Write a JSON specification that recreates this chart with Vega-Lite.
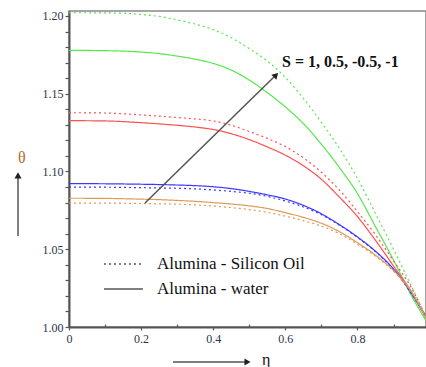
{
  "$schema": "https://vega.github.io/schema/vega-lite/v6.json",
  "width": 357,
  "height": 316,
  "autosize": {"type": "none"},
  "padding": {"left": 69, "top": 11, "right": 0, "bottom": 40},
  "background": "white",
  "config": {
    "view": {"stroke": "#888", "strokeWidth": 1.5},
    "axis": {"labelFont": "serif", "labelFontSize": 12, "labelColor": "#2a3548", "domainColor": "#555", "domainWidth": 2, "tickColor": "#555", "tickWidth": 1.2, "grid": false, "title": null}
  },
  "datasets": {
    "curves": [
      {"eta": 0, "theta": 1.2021, "S": "-1", "fluid": "Alumina - Silicon Oil"},
      {"eta": 0.1, "theta": 1.2020, "S": "-1", "fluid": "Alumina - Silicon Oil"},
      {"eta": 0.2, "theta": 1.2010, "S": "-1", "fluid": "Alumina - Silicon Oil"},
      {"eta": 0.25, "theta": 1.1997, "S": "-1", "fluid": "Alumina - Silicon Oil"},
      {"eta": 0.3, "theta": 1.1975, "S": "-1", "fluid": "Alumina - Silicon Oil"},
      {"eta": 0.35, "theta": 1.1948, "S": "-1", "fluid": "Alumina - Silicon Oil"},
      {"eta": 0.4, "theta": 1.1912, "S": "-1", "fluid": "Alumina - Silicon Oil"},
      {"eta": 0.45, "theta": 1.1860, "S": "-1", "fluid": "Alumina - Silicon Oil"},
      {"eta": 0.5, "theta": 1.1790, "S": "-1", "fluid": "Alumina - Silicon Oil"},
      {"eta": 0.55, "theta": 1.1710, "S": "-1", "fluid": "Alumina - Silicon Oil"},
      {"eta": 0.6, "theta": 1.1605, "S": "-1", "fluid": "Alumina - Silicon Oil"},
      {"eta": 0.65, "theta": 1.1470, "S": "-1", "fluid": "Alumina - Silicon Oil"},
      {"eta": 0.7, "theta": 1.1315, "S": "-1", "fluid": "Alumina - Silicon Oil"},
      {"eta": 0.75, "theta": 1.1148, "S": "-1", "fluid": "Alumina - Silicon Oil"},
      {"eta": 0.8, "theta": 1.0955, "S": "-1", "fluid": "Alumina - Silicon Oil"},
      {"eta": 0.85, "theta": 1.0730, "S": "-1", "fluid": "Alumina - Silicon Oil"},
      {"eta": 0.9, "theta": 1.0500, "S": "-1", "fluid": "Alumina - Silicon Oil"},
      {"eta": 0.95, "theta": 1.0260, "S": "-1", "fluid": "Alumina - Silicon Oil"},
      {"eta": 0.99, "theta": 1.0065, "S": "-1", "fluid": "Alumina - Silicon Oil"},

      {"eta": 0, "theta": 1.1779, "S": "-1", "fluid": "Alumina - water"},
      {"eta": 0.1, "theta": 1.1777, "S": "-1", "fluid": "Alumina - water"},
      {"eta": 0.2, "theta": 1.1768, "S": "-1", "fluid": "Alumina - water"},
      {"eta": 0.25, "theta": 1.1758, "S": "-1", "fluid": "Alumina - water"},
      {"eta": 0.3, "theta": 1.1742, "S": "-1", "fluid": "Alumina - water"},
      {"eta": 0.35, "theta": 1.1722, "S": "-1", "fluid": "Alumina - water"},
      {"eta": 0.4, "theta": 1.1695, "S": "-1", "fluid": "Alumina - water"},
      {"eta": 0.45, "theta": 1.1652, "S": "-1", "fluid": "Alumina - water"},
      {"eta": 0.5, "theta": 1.1588, "S": "-1", "fluid": "Alumina - water"},
      {"eta": 0.55, "theta": 1.1507, "S": "-1", "fluid": "Alumina - water"},
      {"eta": 0.6, "theta": 1.1415, "S": "-1", "fluid": "Alumina - water"},
      {"eta": 0.65, "theta": 1.1308, "S": "-1", "fluid": "Alumina - water"},
      {"eta": 0.7, "theta": 1.1175, "S": "-1", "fluid": "Alumina - water"},
      {"eta": 0.75, "theta": 1.1025, "S": "-1", "fluid": "Alumina - water"},
      {"eta": 0.8, "theta": 1.0858, "S": "-1", "fluid": "Alumina - water"},
      {"eta": 0.85, "theta": 1.0645, "S": "-1", "fluid": "Alumina - water"},
      {"eta": 0.9, "theta": 1.0430, "S": "-1", "fluid": "Alumina - water"},
      {"eta": 0.95, "theta": 1.0200, "S": "-1", "fluid": "Alumina - water"},
      {"eta": 0.99, "theta": 1.0040, "S": "-1", "fluid": "Alumina - water"},

      {"eta": 0, "theta": 1.1378, "S": "-0.5", "fluid": "Alumina - Silicon Oil"},
      {"eta": 0.1, "theta": 1.1376, "S": "-0.5", "fluid": "Alumina - Silicon Oil"},
      {"eta": 0.2, "theta": 1.1364, "S": "-0.5", "fluid": "Alumina - Silicon Oil"},
      {"eta": 0.25, "theta": 1.1356, "S": "-0.5", "fluid": "Alumina - Silicon Oil"},
      {"eta": 0.3, "theta": 1.1347, "S": "-0.5", "fluid": "Alumina - Silicon Oil"},
      {"eta": 0.35, "theta": 1.1338, "S": "-0.5", "fluid": "Alumina - Silicon Oil"},
      {"eta": 0.4, "theta": 1.1325, "S": "-0.5", "fluid": "Alumina - Silicon Oil"},
      {"eta": 0.45, "theta": 1.1298, "S": "-0.5", "fluid": "Alumina - Silicon Oil"},
      {"eta": 0.5, "theta": 1.1257, "S": "-0.5", "fluid": "Alumina - Silicon Oil"},
      {"eta": 0.55, "theta": 1.1213, "S": "-0.5", "fluid": "Alumina - Silicon Oil"},
      {"eta": 0.6, "theta": 1.1160, "S": "-0.5", "fluid": "Alumina - Silicon Oil"},
      {"eta": 0.65, "theta": 1.1088, "S": "-0.5", "fluid": "Alumina - Silicon Oil"},
      {"eta": 0.7, "theta": 1.0995, "S": "-0.5", "fluid": "Alumina - Silicon Oil"},
      {"eta": 0.75, "theta": 1.0880, "S": "-0.5", "fluid": "Alumina - Silicon Oil"},
      {"eta": 0.8, "theta": 1.0742, "S": "-0.5", "fluid": "Alumina - Silicon Oil"},
      {"eta": 0.85, "theta": 1.0593, "S": "-0.5", "fluid": "Alumina - Silicon Oil"},
      {"eta": 0.9, "theta": 1.0425, "S": "-0.5", "fluid": "Alumina - Silicon Oil"},
      {"eta": 0.95, "theta": 1.0250, "S": "-0.5", "fluid": "Alumina - Silicon Oil"},
      {"eta": 0.99, "theta": 1.0065, "S": "-0.5", "fluid": "Alumina - Silicon Oil"},

      {"eta": 0, "theta": 1.1327, "S": "-0.5", "fluid": "Alumina - water"},
      {"eta": 0.1, "theta": 1.1325, "S": "-0.5", "fluid": "Alumina - water"},
      {"eta": 0.2, "theta": 1.1314, "S": "-0.5", "fluid": "Alumina - water"},
      {"eta": 0.25, "theta": 1.1306, "S": "-0.5", "fluid": "Alumina - water"},
      {"eta": 0.3, "theta": 1.1297, "S": "-0.5", "fluid": "Alumina - water"},
      {"eta": 0.35, "theta": 1.1286, "S": "-0.5", "fluid": "Alumina - water"},
      {"eta": 0.4, "theta": 1.1270, "S": "-0.5", "fluid": "Alumina - water"},
      {"eta": 0.45, "theta": 1.1243, "S": "-0.5", "fluid": "Alumina - water"},
      {"eta": 0.5, "theta": 1.1205, "S": "-0.5", "fluid": "Alumina - water"},
      {"eta": 0.55, "theta": 1.1158, "S": "-0.5", "fluid": "Alumina - water"},
      {"eta": 0.6, "theta": 1.1105, "S": "-0.5", "fluid": "Alumina - water"},
      {"eta": 0.65, "theta": 1.1037, "S": "-0.5", "fluid": "Alumina - water"},
      {"eta": 0.7, "theta": 1.0950, "S": "-0.5", "fluid": "Alumina - water"},
      {"eta": 0.75, "theta": 1.0835, "S": "-0.5", "fluid": "Alumina - water"},
      {"eta": 0.8, "theta": 1.0710, "S": "-0.5", "fluid": "Alumina - water"},
      {"eta": 0.85, "theta": 1.0557, "S": "-0.5", "fluid": "Alumina - water"},
      {"eta": 0.9, "theta": 1.0392, "S": "-0.5", "fluid": "Alumina - water"},
      {"eta": 0.95, "theta": 1.0225, "S": "-0.5", "fluid": "Alumina - water"},
      {"eta": 0.99, "theta": 1.0060, "S": "-0.5", "fluid": "Alumina - water"},

      {"eta": 0, "theta": 1.0900, "S": "0.5", "fluid": "Alumina - Silicon Oil"},
      {"eta": 0.1, "theta": 1.0899, "S": "0.5", "fluid": "Alumina - Silicon Oil"},
      {"eta": 0.2, "theta": 1.0896, "S": "0.5", "fluid": "Alumina - Silicon Oil"},
      {"eta": 0.25, "theta": 1.0894, "S": "0.5", "fluid": "Alumina - Silicon Oil"},
      {"eta": 0.3, "theta": 1.0892, "S": "0.5", "fluid": "Alumina - Silicon Oil"},
      {"eta": 0.35, "theta": 1.0888, "S": "0.5", "fluid": "Alumina - Silicon Oil"},
      {"eta": 0.4, "theta": 1.0881, "S": "0.5", "fluid": "Alumina - Silicon Oil"},
      {"eta": 0.45, "theta": 1.0872, "S": "0.5", "fluid": "Alumina - Silicon Oil"},
      {"eta": 0.5, "theta": 1.0860, "S": "0.5", "fluid": "Alumina - Silicon Oil"},
      {"eta": 0.55, "theta": 1.0840, "S": "0.5", "fluid": "Alumina - Silicon Oil"},
      {"eta": 0.6, "theta": 1.0810, "S": "0.5", "fluid": "Alumina - Silicon Oil"},
      {"eta": 0.65, "theta": 1.0772, "S": "0.5", "fluid": "Alumina - Silicon Oil"},
      {"eta": 0.7, "theta": 1.0722, "S": "0.5", "fluid": "Alumina - Silicon Oil"},
      {"eta": 0.75, "theta": 1.0655, "S": "0.5", "fluid": "Alumina - Silicon Oil"},
      {"eta": 0.8, "theta": 1.0576, "S": "0.5", "fluid": "Alumina - Silicon Oil"},
      {"eta": 0.85, "theta": 1.0484, "S": "0.5", "fluid": "Alumina - Silicon Oil"},
      {"eta": 0.9, "theta": 1.0370, "S": "0.5", "fluid": "Alumina - Silicon Oil"},
      {"eta": 0.95, "theta": 1.0213, "S": "0.5", "fluid": "Alumina - Silicon Oil"},
      {"eta": 0.99, "theta": 1.0060, "S": "0.5", "fluid": "Alumina - Silicon Oil"},

      {"eta": 0, "theta": 1.0922, "S": "0.5", "fluid": "Alumina - water"},
      {"eta": 0.1, "theta": 1.0921, "S": "0.5", "fluid": "Alumina - water"},
      {"eta": 0.2, "theta": 1.0918, "S": "0.5", "fluid": "Alumina - water"},
      {"eta": 0.25, "theta": 1.0916, "S": "0.5", "fluid": "Alumina - water"},
      {"eta": 0.3, "theta": 1.0913, "S": "0.5", "fluid": "Alumina - water"},
      {"eta": 0.35, "theta": 1.0909, "S": "0.5", "fluid": "Alumina - water"},
      {"eta": 0.4, "theta": 1.0902, "S": "0.5", "fluid": "Alumina - water"},
      {"eta": 0.45, "theta": 1.0890, "S": "0.5", "fluid": "Alumina - water"},
      {"eta": 0.5, "theta": 1.0872, "S": "0.5", "fluid": "Alumina - water"},
      {"eta": 0.55, "theta": 1.0850, "S": "0.5", "fluid": "Alumina - water"},
      {"eta": 0.6, "theta": 1.0823, "S": "0.5", "fluid": "Alumina - water"},
      {"eta": 0.65, "theta": 1.0782, "S": "0.5", "fluid": "Alumina - water"},
      {"eta": 0.7, "theta": 1.0728, "S": "0.5", "fluid": "Alumina - water"},
      {"eta": 0.75, "theta": 1.0658, "S": "0.5", "fluid": "Alumina - water"},
      {"eta": 0.8, "theta": 1.0579, "S": "0.5", "fluid": "Alumina - water"},
      {"eta": 0.85, "theta": 1.0487, "S": "0.5", "fluid": "Alumina - water"},
      {"eta": 0.9, "theta": 1.0373, "S": "0.5", "fluid": "Alumina - water"},
      {"eta": 0.95, "theta": 1.0215, "S": "0.5", "fluid": "Alumina - water"},
      {"eta": 0.99, "theta": 1.0060, "S": "0.5", "fluid": "Alumina - water"},

      {"eta": 0, "theta": 1.0797, "S": "1", "fluid": "Alumina - Silicon Oil"},
      {"eta": 0.1, "theta": 1.0797, "S": "1", "fluid": "Alumina - Silicon Oil"},
      {"eta": 0.2, "theta": 1.0794, "S": "1", "fluid": "Alumina - Silicon Oil"},
      {"eta": 0.25, "theta": 1.0792, "S": "1", "fluid": "Alumina - Silicon Oil"},
      {"eta": 0.3, "theta": 1.0790, "S": "1", "fluid": "Alumina - Silicon Oil"},
      {"eta": 0.35, "theta": 1.0785, "S": "1", "fluid": "Alumina - Silicon Oil"},
      {"eta": 0.4, "theta": 1.0778, "S": "1", "fluid": "Alumina - Silicon Oil"},
      {"eta": 0.45, "theta": 1.0768, "S": "1", "fluid": "Alumina - Silicon Oil"},
      {"eta": 0.5, "theta": 1.0755, "S": "1", "fluid": "Alumina - Silicon Oil"},
      {"eta": 0.55, "theta": 1.0737, "S": "1", "fluid": "Alumina - Silicon Oil"},
      {"eta": 0.6, "theta": 1.0713, "S": "1", "fluid": "Alumina - Silicon Oil"},
      {"eta": 0.65, "theta": 1.0684, "S": "1", "fluid": "Alumina - Silicon Oil"},
      {"eta": 0.7, "theta": 1.0648, "S": "1", "fluid": "Alumina - Silicon Oil"},
      {"eta": 0.75, "theta": 1.0600, "S": "1", "fluid": "Alumina - Silicon Oil"},
      {"eta": 0.8, "theta": 1.0532, "S": "1", "fluid": "Alumina - Silicon Oil"},
      {"eta": 0.85, "theta": 1.0455, "S": "1", "fluid": "Alumina - Silicon Oil"},
      {"eta": 0.9, "theta": 1.0358, "S": "1", "fluid": "Alumina - Silicon Oil"},
      {"eta": 0.95, "theta": 1.0222, "S": "1", "fluid": "Alumina - Silicon Oil"},
      {"eta": 0.99, "theta": 1.0055, "S": "1", "fluid": "Alumina - Silicon Oil"},

      {"eta": 0, "theta": 1.0828, "S": "1", "fluid": "Alumina - water"},
      {"eta": 0.1, "theta": 1.0827, "S": "1", "fluid": "Alumina - water"},
      {"eta": 0.2, "theta": 1.0822, "S": "1", "fluid": "Alumina - water"},
      {"eta": 0.25, "theta": 1.0819, "S": "1", "fluid": "Alumina - water"},
      {"eta": 0.3, "theta": 1.0814, "S": "1", "fluid": "Alumina - water"},
      {"eta": 0.35, "theta": 1.0808, "S": "1", "fluid": "Alumina - water"},
      {"eta": 0.4, "theta": 1.0800, "S": "1", "fluid": "Alumina - water"},
      {"eta": 0.45, "theta": 1.0791, "S": "1", "fluid": "Alumina - water"},
      {"eta": 0.5, "theta": 1.0779, "S": "1", "fluid": "Alumina - water"},
      {"eta": 0.55, "theta": 1.0762, "S": "1", "fluid": "Alumina - water"},
      {"eta": 0.6, "theta": 1.0735, "S": "1", "fluid": "Alumina - water"},
      {"eta": 0.65, "theta": 1.0705, "S": "1", "fluid": "Alumina - water"},
      {"eta": 0.7, "theta": 1.0667, "S": "1", "fluid": "Alumina - water"},
      {"eta": 0.75, "theta": 1.0613, "S": "1", "fluid": "Alumina - water"},
      {"eta": 0.8, "theta": 1.0542, "S": "1", "fluid": "Alumina - water"},
      {"eta": 0.85, "theta": 1.0462, "S": "1", "fluid": "Alumina - water"},
      {"eta": 0.9, "theta": 1.0363, "S": "1", "fluid": "Alumina - water"},
      {"eta": 0.95, "theta": 1.0225, "S": "1", "fluid": "Alumina - water"},
      {"eta": 0.99, "theta": 1.0055, "S": "1", "fluid": "Alumina - water"}
    ],
    "arrows": [
      {"name": "S", "eta": 0.2108, "theta": 1.0797, "eta2": 0.5740, "theta2": 1.1620},
      {"name": "theta", "eta": -0.1414, "theta": 1.0585, "eta2": -0.1414, "theta2": 1.0975},
      {"name": "eta", "eta": 0.2884, "theta": 0.9775, "eta2": 0.4950, "theta2": 0.9775}
    ],
    "heads": [
      {"name": "S", "eta": 0.5740, "theta": 1.1620, "angle": 44.6},
      {"name": "theta", "eta": -0.1414, "theta": 1.0975, "angle": 0},
      {"name": "eta", "eta": 0.4950, "theta": 0.9775, "angle": 90}
    ],
    "legend": [
      {"eta": 0.097, "eta2": 0.205, "etaText": 0.244, "theta": 1.0405, "fluid": "Alumina - Silicon Oil"},
      {"eta": 0.097, "eta2": 0.205, "etaText": 0.244, "theta": 1.0244, "fluid": "Alumina - water"}
    ],
    "slabel": [
      {"eta": 0.5907, "theta": 1.1704, "text": "S = 1, 0.5, -0.5, -1"}
    ],
    "labels": [
      {"eta": -0.1414, "theta": 1.1087, "text": "θ", "kind": "theta"},
      {"eta": 0.535, "theta": 0.9788, "text": "η", "kind": "eta"}
    ]
  },
  "layer": [
    {
      "data": {"name": "curves"},
      "mark": {"type": "line", "interpolate": "monotone", "strokeWidth": 1.2},
      "encoding": {
        "x": {"field": "eta", "type": "quantitative",
          "scale": {"domain": [0, 0.99], "nice": false, "zero": false},
          "axis": {"orient": "bottom", "values": [0, 0.2, 0.4, 0.6, 0.8], "format": ".1~f",
            "tickSize": 3, "labelPadding": 3, "labelOverlap": false, "labelFlush": false}},
        "y": {"field": "theta", "type": "quantitative",
          "scale": {"domain": [1.0, 1.2032], "nice": false, "zero": false},
          "axis": {"orient": "left", "values": [1.0, 1.05, 1.1, 1.15, 1.2], "format": ".2f",
            "tickSize": 4, "labelPadding": 2, "labelOverlap": false, "labelFlush": false}},
        "color": {"field": "S", "type": "nominal", "legend": null,
          "scale": {"domain": ["1", "0.5", "-0.5", "-1"], "range": ["#e09a5a", "#3a3aff", "#ff5050", "#55e84a"]}},
        "strokeDash": {"field": "fluid", "type": "nominal", "legend": null,
          "scale": {"domain": ["Alumina - Silicon Oil", "Alumina - water"], "range": [[2, 3], [1, 0]]}}
      }
    },
    {
      "data": {"name": "arrows"},
      "mark": {"type": "rule", "color": "#555", "strokeWidth": 1.5},
      "encoding": {
        "x": {"field": "eta", "type": "quantitative",
          "axis": {"orient": "bottom", "values": [0.1, 0.3, 0.5, 0.7, 0.9], "labels": false, "domain": false, "tickSize": -3}},
        "y": {"field": "theta", "type": "quantitative",
          "axis": {"orient": "left", "values": [1.01, 1.02, 1.03, 1.04, 1.06, 1.07, 1.08, 1.09, 1.11, 1.12, 1.13, 1.14, 1.16, 1.17, 1.18, 1.19], "labels": false, "domain": false, "tickSize": 4}},
        "x2": {"field": "eta2"},
        "y2": {"field": "theta2"}
      }
    },
    {
      "data": {"name": "heads"},
      "mark": {"type": "point", "shape": "triangle-up", "filled": true, "color": "#222", "size": 50, "opacity": 1},
      "encoding": {
        "x": {"field": "eta", "type": "quantitative", "axis": null},
        "y": {"field": "theta", "type": "quantitative", "axis": null},
        "angle": {"field": "angle", "type": "quantitative", "scale": null}
      }
    },
    {
      "data": {"name": "legend"},
      "mark": {"type": "rule", "color": "#555", "strokeWidth": 1.5},
      "encoding": {
        "x": {"field": "eta", "type": "quantitative", "axis": null},
        "x2": {"field": "eta2"},
        "y": {"field": "theta", "type": "quantitative", "axis": null},
        "strokeDash": {"field": "fluid", "type": "nominal", "legend": null}
      }
    },
    {
      "data": {"name": "legend"},
      "mark": {"type": "text", "align": "left", "baseline": "middle", "font": "serif", "fontSize": 17, "color": "#111"},
      "encoding": {
        "x": {"field": "etaText", "type": "quantitative", "axis": null},
        "y": {"field": "theta", "type": "quantitative", "axis": null},
        "text": {"field": "fluid"}
      }
    },
    {
      "data": {"name": "slabel"},
      "mark": {"type": "text", "align": "left", "baseline": "middle", "font": "serif", "fontSize": 16, "fontWeight": "bold", "color": "#111"},
      "encoding": {
        "x": {"field": "eta", "type": "quantitative", "axis": null},
        "y": {"field": "theta", "type": "quantitative", "axis": null},
        "text": {"field": "text"}
      }
    },
    {
      "data": {"name": "labels"},
      "mark": {"type": "text", "align": "left", "baseline": "middle", "font": "serif", "fontSize": 16},
      "encoding": {
        "x": {"field": "eta", "type": "quantitative", "axis": null},
        "y": {"field": "theta", "type": "quantitative", "axis": null},
        "text": {"field": "text"},
        "color": {"field": "kind", "type": "nominal", "legend": null, "scale": {"domain": ["theta", "eta"], "range": ["#b86a30", "#111"]}}
      }
    }
  ],
  "resolve": {"scale": {"color": "independent"}, "axis": {"x": "independent", "y": "independent"}}
}
